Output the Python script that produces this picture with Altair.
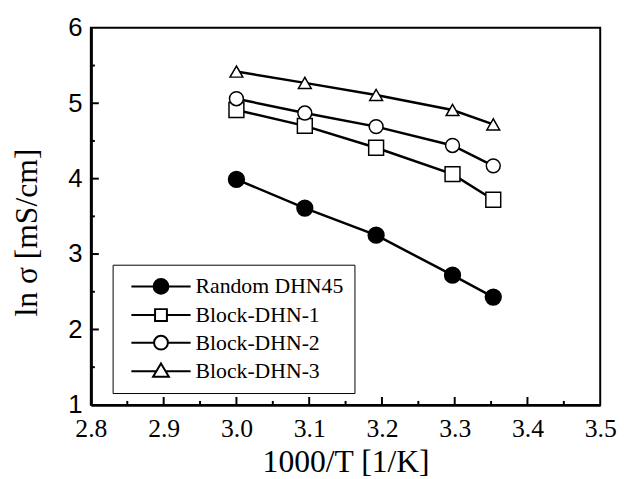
import altair as alt
import pandas as pd

# ---- data ----
x_vals = [3.000, 3.094, 3.192, 3.297, 3.353]
random_dhn45 = [3.99, 3.61, 3.25, 2.72, 2.43]
block_dhn1 = [4.91, 4.70, 4.41, 4.06, 3.72]
block_dhn2 = [5.06, 4.87, 4.69, 4.44, 4.17]
block_dhn3 = [5.42, 5.27, 5.11, 4.91, 4.72]
series_names = ["Random DHN45", "Block-DHN-1", "Block-DHN-2", "Block-DHN-3"]

x_ticks = [2.8, 2.9, 3.0, 3.1, 3.2, 3.3, 3.4, 3.5]
x_minor = [2.85, 2.95, 3.05, 3.15, 3.25, 3.35, 3.45]
y_ticks = [1, 2, 3, 4, 5, 6]
y_minor = [1.5, 2.5, 3.5, 4.5, 5.5]

series_values = [random_dhn45, block_dhn1, block_dhn2, block_dhn3]
rows = []
for name, vals in zip(series_names, series_values):
    for xv, yv in zip(x_vals, vals):
        rows.append({"x": xv, "y": yv, "series": name})
df = pd.DataFrame(rows)

# ---- styles ----
W, H = 516, 382
SERIF = "Liberation Serif"
SANS = "Liberation Sans"

marker_shapes = ["circle", "square", "circle", "triangle-up"]
marker_fills = ["black", "white", "white", "white"]
marker_strokes = ["black", "black", "black", "black"]
marker_sizes = [256, 169, 225, 289]

# legend symbols: line + marker drawn as a custom path (unit = 10 px)
legend_paths = [
    "M-0.3,0 L1.95,0 M3.45,0 L5.7,0 M1.95,0 A0.75,0.75 0 1,0 3.45,0 A0.75,0.75 0 1,0 1.95,0 Z",
    "M-0.3,0 L2.1,0 M3.3,0 L5.7,0 M2.1,-0.6 L3.3,-0.6 L3.3,0.6 L2.1,0.6 Z",
    "M-0.3,0 L2.0,0 M3.4,0 L5.7,0 M2.0,0 A0.7,0.7 0 1,0 3.4,0 A0.7,0.7 0 1,0 2.0,0 Z",
    "M-0.3,0 L2.23,0 M3.17,0 L5.7,0 M2.7,-0.8 L3.5,0.55 L1.9,0.55 Z",
]

x_scale = alt.Scale(domain=[2.8, 3.5], nice=False, zero=False)
y_scale = alt.Scale(domain=[1, 6], nice=False, zero=False)

x_axis = alt.Axis(
    orient="bottom", values=x_ticks, format=".1f", title="1000/T [1/K]",
    ticks=False, tickSize=0, grid=False,
    domainColor="black", domainWidth=3,
    labelFont=SERIF, labelFontSize=26, labelColor="black",
    labelBaseline="alphabetic", labelPadding=32, labelFlush=False,
    titleFont=SERIF, titleFontSize=32, titleFontWeight="normal", titleColor="black",
    titleBaseline="alphabetic", titleY=67,
)
y_axis = alt.Axis(
    orient="left", values=y_ticks, format="d", title="ln σ [mS/cm]",
    ticks=False, tickSize=0, grid=False,
    domainColor="black", domainWidth=3,
    labelFont=SANS, labelFontSize=26, labelColor="black",
    labelPadding=9, labelFlush=False,
    titleFont=SERIF, titleFontSize=32, titleFontWeight="normal", titleColor="black",
    titleBaseline="alphabetic", titleX=-55, titleY=207,
)

base = alt.Chart(df)

# inward tick marks (drawn from the tick lists through the scales)
def x_tick_layer(values, length):
    return alt.Chart(pd.DataFrame({"v": values})).mark_rule(color="black", strokeWidth=2).encode(
        x=alt.X("v:Q", scale=x_scale, axis=x_axis),
        y=alt.value(H), y2=alt.value(H - length),
    )

def y_tick_layer(values, length):
    return alt.Chart(pd.DataFrame({"v": values})).mark_rule(color="black", strokeWidth=2).encode(
        y=alt.Y("v:Q", scale=y_scale, axis=y_axis),
        x=alt.value(0), x2=alt.value(length),
    )

ticks = [
    x_tick_layer(x_ticks[1:-1], 8), x_tick_layer(x_minor, 4),
    y_tick_layer(y_ticks[1:-1], 8), y_tick_layer(y_minor, 4),
]

lines = base.mark_line(color="black", strokeWidth=2.5).encode(
    x=alt.X("x:Q", scale=x_scale, axis=x_axis),
    y=alt.Y("y:Q", scale=y_scale, axis=y_axis),
    detail="series:N",
)

points = base.mark_point(filled=True, stroke="black", strokeWidth=1.5, opacity=1).encode(
    x=alt.X("x:Q", scale=x_scale, axis=x_axis),
    y=alt.Y("y:Q", scale=y_scale, axis=y_axis),
    shape=alt.Shape("series:N", scale=alt.Scale(domain=series_names, range=marker_shapes), legend=None),
    fill=alt.Fill("series:N", scale=alt.Scale(domain=series_names, range=marker_fills), legend=None),
    size=alt.Size("series:N", scale=alt.Scale(domain=series_names, range=marker_sizes), legend=None),
)

legend_def = alt.Legend(
    title=None, orient="none", legendX=22, legendY=240,
    padding=11, strokeColor="black", fillColor="white",
    labelFont=SERIF, labelFontSize=22, labelColor="black", labelLimit=400,
    labelOffset=51, rowPadding=6,
    symbolSize=400, symbolStrokeColor="black", symbolStrokeWidth=2,
)

legend_layer = base.transform_filter("datum.x < 0").mark_point(
    filled=True, strokeWidth=2, opacity=1, size=400
).encode(
    x=alt.X("x:Q", scale=x_scale, axis=x_axis),
    y=alt.Y("y:Q", scale=y_scale, axis=y_axis),
    shape=alt.Shape("series:N", scale=alt.Scale(domain=series_names, range=legend_paths), legend=legend_def),
    fill=alt.Fill("series:N", scale=alt.Scale(domain=series_names, range=marker_fills), legend=legend_def),
    stroke=alt.Stroke("series:N", scale=alt.Scale(domain=series_names, range=marker_strokes), legend=legend_def),
)

chart = (
    alt.layer(*ticks, lines, points, legend_layer)
    .resolve_scale(shape="independent", fill="independent", size="independent", stroke="independent")
    .properties(
        width=W, height=H,
        padding={"left": 84, "top": 17, "right": 17, "bottom": 72},
        autosize=alt.AutoSizeParams(type="none"),
        background="white",
    )
    .configure_view(stroke="black", strokeWidth=2)
)

chart.save("out.html", embed_options={"renderer": "svg", "actions": False})
